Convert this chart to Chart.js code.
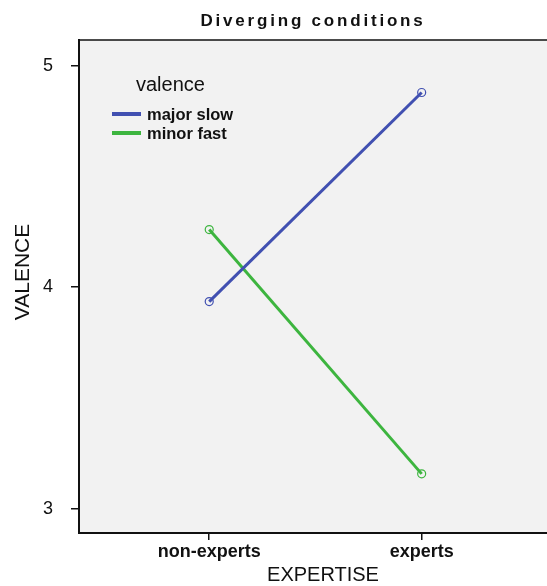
<!DOCTYPE html>
<html><head><meta charset="utf-8">
<script src="https://cdn.jsdelivr.net/npm/chart.js@4"></script>
<style>html,body{margin:0;padding:0;background:#fff}</style>
</head><body>
<canvas id="c" width="547" height="586"></canvas>
<script>
const chartTitle = 'Diverging conditions';
const categories = ['non-experts', 'experts'];
const seriesNames = ['major slow', 'minor fast'];
const majorSlow = [3.935, 4.879];
const minorFast = [4.260, 3.157];
const yTicks = [3, 4, 5];
const legendTitle = 'valence';
const xTitle = 'EXPERTISE';
const yTitle = 'VALENCE';
const colors = ['#4150b1', '#3db53f'];

const FAM = '"Liberation Sans", Arial, Helvetica, sans-serif';
Chart.defaults.font.family = FAM;
Chart.defaults.color = '#111';

const toPts = arr => categories.map((c, i) => ({x: i, y: arr[i]}));

const decor = {
  id: 'decor',
  beforeDraw(chart) {
    const {ctx, chartArea: a} = chart;
    ctx.save();
    ctx.fillStyle = '#f2f2f2';
    ctx.fillRect(a.left, a.top, a.right - a.left, a.bottom - a.top);
    ctx.restore();
  },
  afterDraw(chart) {
    const {ctx, chartArea: a} = chart;
    ctx.save();
    ctx.strokeStyle = '#111';
    ctx.lineWidth = 1.5;
    ctx.beginPath();
    ctx.moveTo(a.left, a.top);
    ctx.lineTo(a.right, a.top);
    ctx.stroke();
    ctx.fillStyle = '#111';
    ctx.textAlign = 'center';
    ctx.textBaseline = 'middle';
    ctx.font = 'bold 17px ' + FAM;
    ctx.letterSpacing = '2.8px';
    ctx.fillText(chartTitle, 313, 21);
    ctx.letterSpacing = '0px';
    ctx.font = '20px ' + FAM;
    ctx.fillText(xTitle, 323, 575);
    ctx.save();
    ctx.translate(23, 272);
    ctx.rotate(-Math.PI / 2);
    ctx.font = '21px ' + FAM;
    ctx.fillText(yTitle, 0, 0);
    ctx.restore();
    ctx.textAlign = 'left';
    ctx.font = '20px ' + FAM;
    ctx.fillText(legendTitle, 136, 85);
    chart.data.datasets.forEach((ds, i) => {
      const y = 114 + i * 19;
      ctx.strokeStyle = ds.borderColor;
      ctx.lineWidth = 4;
      ctx.beginPath();
      ctx.moveTo(112, y);
      ctx.lineTo(141, y);
      ctx.stroke();
      ctx.font = 'bold 16.5px ' + FAM;
      ctx.fillStyle = '#111';
      ctx.fillText(ds.label, 147, y + 1);
    });
    ctx.restore();
  }
};

const mkDs = (name, arr, col) => ({
  label: name,
  data: toPts(arr),
  borderColor: col,
  backgroundColor: col,
  borderWidth: 3,
  pointRadius: 4,
  pointHoverRadius: 4,
  pointBorderWidth: 1.2,
  pointBorderColor: col,
  pointBackgroundColor: 'rgba(0,0,0,0)',
  tension: 0
});

new Chart(document.getElementById('c'), {
  type: 'line',
  data: {
    datasets: [
      mkDs(seriesNames[0], majorSlow, colors[0]),
      mkDs(seriesNames[1], minorFast, colors[1])
    ]
  },
  options: {
    responsive: false,
    animation: false,
    devicePixelRatio: 1,
    layout: {autoPadding: false, padding: {top: 40, left: 0, right: 0, bottom: 0}},
    plugins: {legend: {display: false}, title: {display: false}, tooltip: {enabled: false}},
    scales: {
      x: {
        type: 'linear', position: 'bottom',
        min: -0.613, max: 1.590,
        afterBuildTicks: s => { s.ticks = categories.map((c, i) => ({value: i})); },
        ticks: {
          callback: (v, i) => categories[i],
          font: {size: 18, weight: 'bold'}, color: '#111', padding: 1,
          maxRotation: 0, autoSkip: false
        },
        grid: {drawOnChartArea: false, drawTicks: true, tickLength: 7, color: '#111', lineWidth: 1.5},
        border: {display: true, color: '#111', width: 2},
        title: {display: false},
        afterFit: s => { s.height = 53; }
      },
      y: {
        type: 'linear', position: 'left',
        min: 2.890, max: 5.116,
        afterBuildTicks: s => { s.ticks = yTicks.map(v => ({value: v})); },
        ticks: {font: {size: 18}, color: '#111', padding: 18},
        grid: {drawOnChartArea: false, drawTicks: true, tickLength: 8, color: '#111', lineWidth: 1.5},
        border: {display: true, color: '#111', width: 2},
        afterFit: s => { s.width = 79; }
      }
    }
  },
  plugins: [decor]
});
</script>
</body></html>
